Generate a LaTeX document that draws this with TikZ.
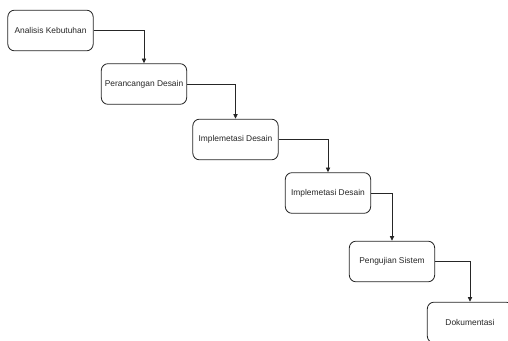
\documentclass[tikz,border=0pt]{standalone}
\usepackage{fontspec}
\setmainfont{Liberation Sans}
\usetikzlibrary{arrows.meta}
\begin{document}
\begin{tikzpicture}[x=0.75pt,y=-0.75pt,
  stepbox/.style={draw=black!85, line width=0.6pt, rounded corners=5pt, fill=white,
    minimum width=64pt, minimum height=30.5pt, inner sep=0pt,
    font=\fontsize{6.3pt}{7.5pt}\selectfont, text=black!85},
  conn/.style={draw=black!85, line width=0.6pt, -{Triangle[length=3.5pt,width=3.2pt]}}]
\useasboundingbox (0,0) rectangle (508,341);
\clip (0,0) rectangle (508,341);
\node[stepbox] (a) at (50.5,30.5) {Analisis Kebutuhan};
\node[stepbox] (b) at (144,84) {Perancangan Desain};
\node[stepbox] (c) at (235.5,139.5) {Implemetasi Desain};
\node[stepbox] (d) at (328,193) {Implemetasi Desain};
\node[stepbox] (e) at (392,261.5) {Pengujian Sistem};
\node[stepbox] (f) at (470,322.5) {Dokumentasi};
\draw[conn] (a.east) -| (b.north);
\draw[conn] (b.east) -| (c.north);
\draw[conn] (c.east) -| (d.north);
\draw[conn] (d.east) -| (e.north);
\draw[conn] (e.east) -| (f.north);
\end{tikzpicture}
\end{document}
